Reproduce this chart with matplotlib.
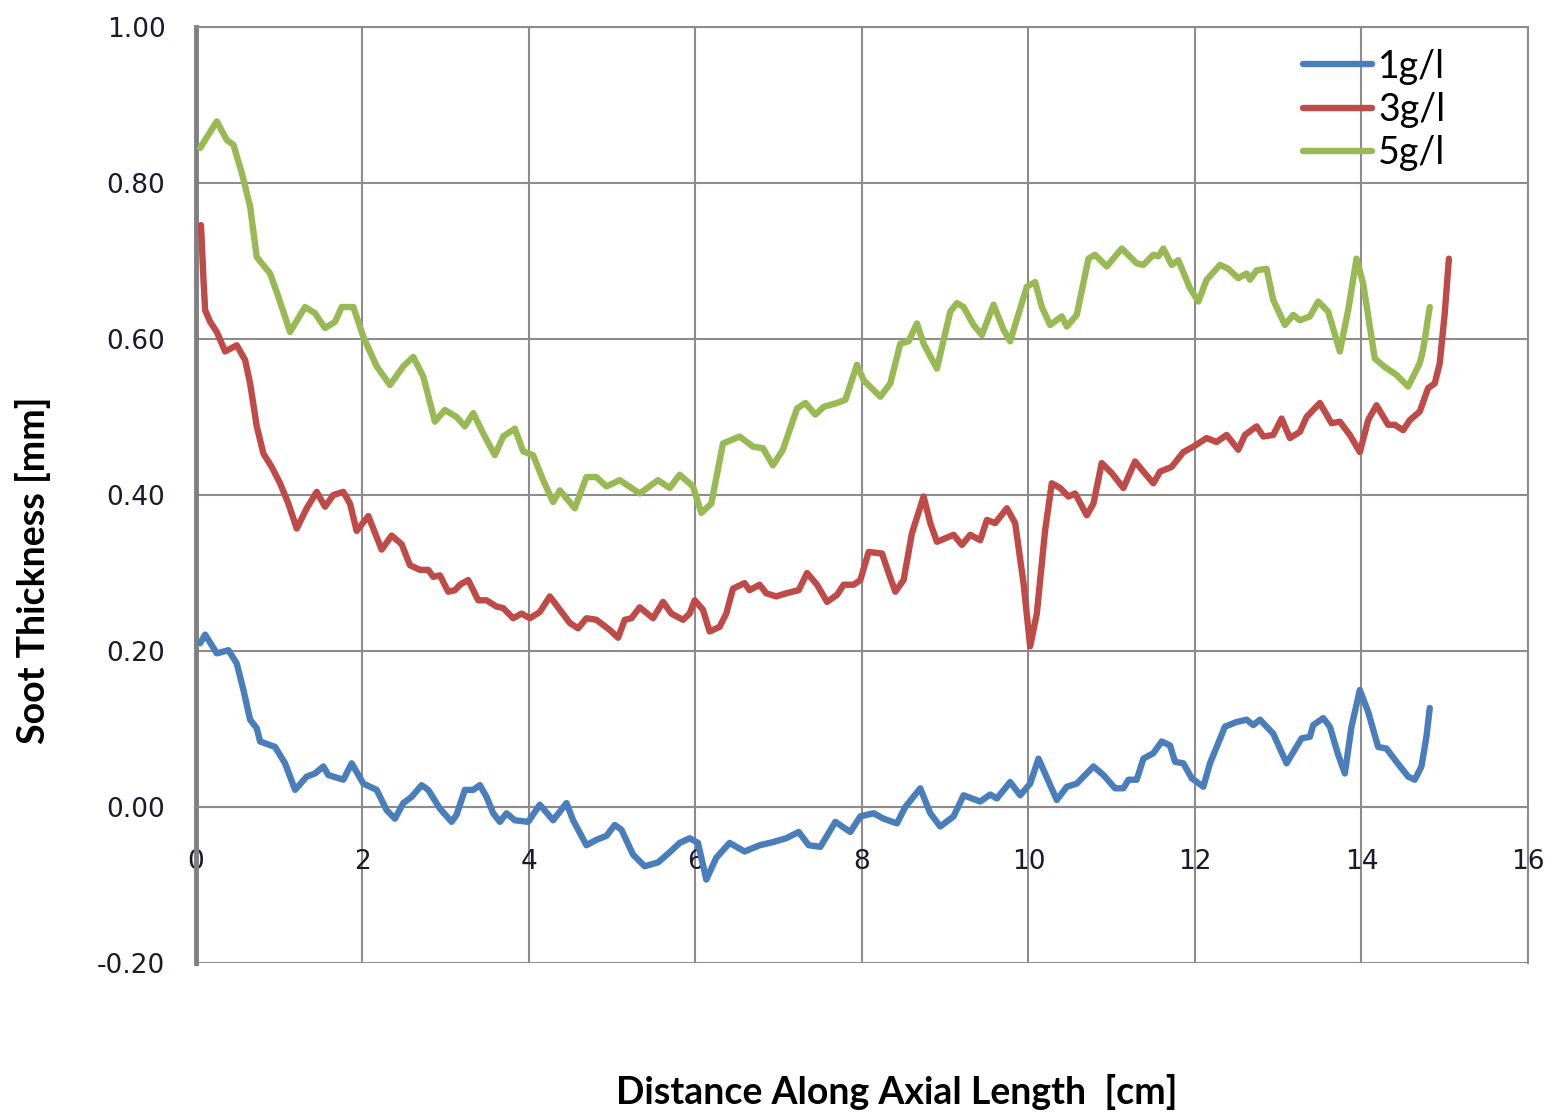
import matplotlib
matplotlib.use("Agg")
import matplotlib.pyplot as plt
import numpy as np

# soot layer thickness along the axial length, three loadings
x_1g = [0.05, 0.11, 0.25, 0.39, 0.49, 0.57, 0.65, 0.73, 0.77, 0.95, 1.07, 1.19, 1.33, 1.43, 1.53, 1.59,
        1.77, 1.87, 2.01, 2.17, 2.29, 2.39, 2.49, 2.59, 2.71, 2.79, 2.93, 3.07, 3.13, 3.23, 3.33, 3.41,
        3.49, 3.57, 3.65, 3.73, 3.83, 3.99, 4.13, 4.29, 4.45, 4.53, 4.69, 4.81, 4.93, 5.03, 5.11, 5.25,
        5.39, 5.55, 5.69, 5.81, 5.93, 6.03, 6.13, 6.25, 6.41, 6.59, 6.77, 6.93, 7.09, 7.24, 7.36, 7.50,
        7.68, 7.86, 7.98, 8.14, 8.26, 8.42, 8.52, 8.70, 8.82, 8.94, 9.10, 9.22, 9.42, 9.54, 9.62, 9.78,
        9.90, 10.02, 10.12, 10.34, 10.46, 10.58, 10.78, 10.90, 11.04, 11.14, 11.20, 11.30, 11.38, 11.50,
        11.60, 11.70, 11.76, 11.86, 11.96, 12.10, 12.18, 12.36, 12.50, 12.62, 12.70, 12.78, 12.94, 13.10,
        13.28, 13.38, 13.42, 13.54, 13.62, 13.72, 13.80, 13.88, 13.98, 14.08, 14.20, 14.30, 14.42, 14.56,
        14.64, 14.72, 14.78, 14.82]
t_1g = [0.210, 0.221, 0.197, 0.201, 0.184, 0.150, 0.112, 0.101, 0.084, 0.077, 0.056, 0.022, 0.039, 0.043,
        0.052, 0.041, 0.035, 0.056, 0.030, 0.022, -0.004, -0.015, 0.005, 0.013, 0.028, 0.022, -0.002,
        -0.019, -0.010, 0.022, 0.022, 0.028, 0.013, -0.008, -0.019, -0.008, -0.017, -0.019, 0.003, -0.017,
        0.005, -0.017, -0.049, -0.042, -0.037, -0.023, -0.029, -0.061, -0.076, -0.071, -0.058, -0.046,
        -0.040, -0.046, -0.093, -0.065, -0.046, -0.057, -0.049, -0.045, -0.040, -0.032, -0.049, -0.051,
        -0.019, -0.032, -0.012, -0.008, -0.015, -0.021, 0.000, 0.024, -0.008, -0.025, -0.012, 0.015, 0.007,
        0.016, 0.011, 0.032, 0.015, 0.030, 0.062, 0.009, 0.026, 0.030, 0.052, 0.041, 0.024, 0.024, 0.035,
        0.035, 0.062, 0.069, 0.084, 0.079, 0.058, 0.056, 0.037, 0.026, 0.056, 0.103, 0.109, 0.112, 0.105,
        0.112, 0.094, 0.056, 0.088, 0.090, 0.105, 0.114, 0.103, 0.067, 0.043, 0.103, 0.150, 0.122, 0.077,
        0.075, 0.058, 0.039, 0.035, 0.052, 0.090, 0.127]

x_3g = [0.06, 0.09, 0.11, 0.17, 0.25, 0.35, 0.49, 0.59, 0.65, 0.73, 0.81, 0.91, 1.01, 1.11, 1.21, 1.33,
        1.45, 1.55, 1.65, 1.77, 1.85, 1.93, 2.07, 2.23, 2.35, 2.47, 2.57, 2.69, 2.79, 2.85, 2.93, 3.03,
        3.11, 3.17, 3.27, 3.39, 3.49, 3.61, 3.69, 3.81, 3.91, 4.01, 4.13, 4.25, 4.37, 4.49, 4.59, 4.69,
        4.81, 4.97, 5.07, 5.15, 5.23, 5.33, 5.49, 5.61, 5.71, 5.85, 5.93, 5.99, 6.09, 6.17, 6.29, 6.37,
        6.45, 6.59, 6.65, 6.77, 6.85, 6.97, 7.09, 7.24, 7.34, 7.46, 7.58, 7.70, 7.78, 7.90, 7.98, 8.08,
        8.24, 8.32, 8.40, 8.50, 8.60, 8.74, 8.82, 8.90, 9.10, 9.20, 9.30, 9.42, 9.50, 9.60, 9.74, 9.84,
        9.94, 10.02, 10.10, 10.20, 10.28, 10.38, 10.48, 10.56, 10.70, 10.78, 10.88, 11.00, 11.14, 11.28,
        11.38, 11.50, 11.58, 11.72, 11.86, 11.98, 12.14, 12.26, 12.38, 12.52, 12.60, 12.74, 12.82, 12.94,
        13.04, 13.14, 13.26, 13.34, 13.50, 13.64, 13.74, 13.86, 13.98, 14.08, 14.18, 14.32, 14.40, 14.50,
        14.58, 14.70, 14.80, 14.88, 14.94, 15.00, 15.05]
t_3g = [0.746, 0.676, 0.637, 0.622, 0.609, 0.584, 0.592, 0.573, 0.543, 0.488, 0.453, 0.436, 0.415, 0.389,
        0.357, 0.383, 0.404, 0.385, 0.400, 0.404, 0.389, 0.354, 0.373, 0.330, 0.348, 0.337, 0.310, 0.304,
        0.304, 0.295, 0.297, 0.276, 0.278, 0.285, 0.291, 0.265, 0.265, 0.257, 0.255, 0.242, 0.248, 0.242,
        0.250, 0.270, 0.253, 0.236, 0.229, 0.242, 0.240, 0.227, 0.217, 0.240, 0.242, 0.256, 0.242, 0.263,
        0.248, 0.240, 0.248, 0.265, 0.253, 0.225, 0.231, 0.248, 0.280, 0.287, 0.278, 0.285, 0.274, 0.270,
        0.274, 0.278, 0.300, 0.285, 0.263, 0.272, 0.285, 0.285, 0.291, 0.327, 0.325, 0.300, 0.276, 0.291,
        0.351, 0.398, 0.364, 0.340, 0.349, 0.336, 0.349, 0.342, 0.368, 0.364, 0.383, 0.364, 0.287, 0.206,
        0.248, 0.355, 0.415, 0.409, 0.398, 0.402, 0.374, 0.389, 0.441, 0.428, 0.409, 0.443, 0.430, 0.415,
        0.430, 0.436, 0.455, 0.462, 0.473, 0.468, 0.477, 0.458, 0.477, 0.488, 0.475, 0.477, 0.498, 0.473,
        0.481, 0.500, 0.518, 0.492, 0.494, 0.477, 0.455, 0.496, 0.515, 0.490, 0.490, 0.483, 0.496, 0.507,
        0.537, 0.543, 0.569, 0.633, 0.703]

x_5g = [0.05, 0.25, 0.37, 0.45, 0.55, 0.65, 0.73, 0.89, 0.99, 1.13, 1.31, 1.43, 1.55, 1.67, 1.75, 1.89,
        2.01, 2.17, 2.33, 2.49, 2.61, 2.73, 2.87, 2.99, 3.13, 3.23, 3.33, 3.45, 3.59, 3.69, 3.83, 3.93,
        4.05, 4.17, 4.29, 4.37, 4.55, 4.69, 4.81, 4.93, 5.09, 5.33, 5.55, 5.69, 5.81, 5.97, 6.07, 6.19,
        6.33, 6.53, 6.69, 6.81, 6.93, 7.05, 7.22, 7.32, 7.44, 7.54, 7.70, 7.80, 7.94, 8.02, 8.22, 8.34,
        8.46, 8.56, 8.66, 8.74, 8.90, 9.06, 9.14, 9.22, 9.34, 9.44, 9.58, 9.70, 9.78, 9.98, 10.08, 10.16,
        10.26, 10.40, 10.46, 10.58, 10.72, 10.80, 10.94, 11.12, 11.30, 11.38, 11.50, 11.56, 11.62, 11.72,
        11.80, 11.94, 12.04, 12.14, 12.30, 12.40, 12.52, 12.62, 12.66, 12.74, 12.86, 12.94, 13.08, 13.18,
        13.26, 13.38, 13.48, 13.60, 13.74, 13.84, 13.94, 14.02, 14.16, 14.28, 14.42, 14.56, 14.70, 14.74,
        14.82]
t_5g = [0.845, 0.879, 0.855, 0.849, 0.813, 0.770, 0.705, 0.684, 0.654, 0.609, 0.641, 0.633, 0.614, 0.622,
        0.641, 0.641, 0.603, 0.565, 0.541, 0.565, 0.577, 0.552, 0.494, 0.509, 0.500, 0.488, 0.505, 0.479,
        0.451, 0.475, 0.485, 0.456, 0.451, 0.419, 0.391, 0.406, 0.383, 0.423, 0.423, 0.411, 0.419, 0.402,
        0.419, 0.409, 0.426, 0.411, 0.377, 0.389, 0.466, 0.475, 0.462, 0.460, 0.438, 0.458, 0.511, 0.518,
        0.503, 0.513, 0.518, 0.522, 0.567, 0.547, 0.526, 0.543, 0.594, 0.597, 0.620, 0.594, 0.562, 0.635,
        0.646, 0.641, 0.618, 0.605, 0.644, 0.612, 0.597, 0.667, 0.673, 0.641, 0.618, 0.629, 0.616, 0.631,
        0.703, 0.708, 0.693, 0.716, 0.697, 0.695, 0.708, 0.706, 0.716, 0.695, 0.701, 0.665, 0.648, 0.676,
        0.695, 0.690, 0.678, 0.684, 0.676, 0.688, 0.690, 0.650, 0.618, 0.631, 0.624, 0.629, 0.648, 0.635,
        0.584, 0.637, 0.703, 0.671, 0.575, 0.564, 0.554, 0.539, 0.569, 0.586, 0.641]

series = [(x_1g, t_1g, '1g/l', '#4A7EBB'),
          (x_3g, t_3g, '3g/l', '#BE4B48'),
          (x_5g, t_5g, '5g/l', '#98B954')]

fig = plt.figure(figsize=(15.53, 11.15), dpi=100)
ax = fig.add_axes([0.1262, 0.1363, 0.8577, 0.8395])

for xx, tt, lab, col in series:
    ax.plot(xx, tt, color=col, lw=4.6, label=lab,
            solid_capstyle='round', solid_joinstyle='round', zorder=3)

ax.set_xlim(0, 16)
ax.set_ylim(-0.2, 1.0)
ax.set_xticks(np.arange(0, 17, 2))
ax.set_yticks(np.arange(-0.2, 1.01, 0.2))
ax.set_yticklabels(['%.2f' % v for v in np.arange(-0.2, 1.01, 0.2)])
ax.grid(True, color='#8c8c8c', lw=1.5)
ax.set_axisbelow(True)

# excel style: category labels sit under the zero line
ax.spines['bottom'].set_position(('data', 0))
ax.spines['bottom'].set_color('#8c8c8c')
ax.spines['bottom'].set_linewidth(1.5)
for s in ['top', 'right']:
    ax.spines[s].set_color('#8c8c8c')
    ax.spines[s].set_linewidth(1.5)
ax.spines['left'].set_color('#808080')
ax.spines['left'].set_linewidth(3.5)

ax.tick_params(axis='x', length=0, pad=30, labelsize=19, colors='#1a1a2a')
ax.tick_params(axis='y', length=0, pad=22, labelsize=19, colors='#1a1a2a')
for t in ax.get_xticklabels() + ax.get_yticklabels():
    t.set_family('DejaVu Sans')

fig.text(0.0212, 0.489, 'Soot Thickness [mm]', rotation=90, ha='center', va='center',
         family='Lato', weight='bold', fontsize=27)
fig.text(0.5776, 0.0206, 'Distance Along Axial Length  [cm]', ha='center', va='center',
         family='Lato', weight='bold', fontsize=27)

leg = ax.legend(loc='upper right', bbox_to_anchor=(0.938, 0.977), frameon=False,
                prop={'family': 'Lato', 'size': 27}, handlelength=1.85,
                handletextpad=0.16, labelspacing=0.19, borderaxespad=0,
                borderpad=0)

plt.savefig('out.png', dpi=100)
